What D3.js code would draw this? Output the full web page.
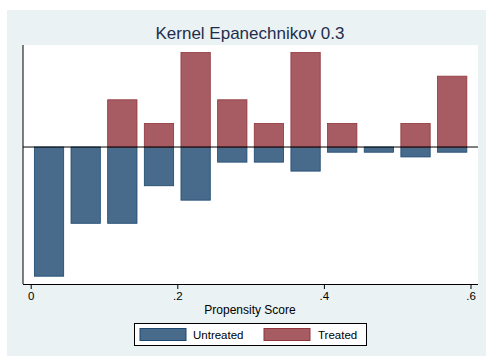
<!DOCTYPE html>
<html><head><meta charset="utf-8">
<script src="https://d3js.org/d3.v7.min.js"></script>
<style>body{margin:0;background:#fff}svg{display:block}text{font-family:"Liberation Sans",Arial,sans-serif}</style>
</head><body><svg id="c" width="486" height="356"></svg>
<script>
const binCenters = [0.025,0.075,0.125,0.175,0.225,0.275,0.325,0.375,0.425,0.475,0.525,0.575];
const treated = [0,0,2,1,4,2,1,4,1,0,1,3];
const untreated = [-5.47,-3.23,-3.23,-1.64,-2.25,-0.64,-0.64,-1.02,-0.22,-0.22,-0.42,-0.22];
const xTicks = [0,0.2,0.4,0.6];
const xTickLabels = ["0",".2",".4",".6"];
const seriesNames = ["Untreated","Treated"];
const titleText = "Kernel Epanechnikov 0.3";
const xTitle = "Propensity Score";

const svg = d3.select("#c");
const navyFill="#486b8c", navyLine="#1a476f", marFill="#a65c62", marLine="#90353b";
svg.append("rect").attr("x",7).attr("y",10).attr("width",479).attr("height",346).attr("fill","#eaf2f3");
const L=23,R=478,T=45,B=284;
svg.append("rect").attr("x",L).attr("y",T).attr("width",R-L).attr("height",B-T).attr("fill","#fff");
const x=d3.scaleLinear().domain([0,0.6]).range([30.7,470.5]);
const y=d3.scaleLinear().domain([-5.8,4.32]).range([B,T]);
const bw=0.04;
const g=svg.append("g");
g.selectAll(".u").data(binCenters).join("rect")
 .attr("x",d=>x(d-bw/2)).attr("width",d=>x(d+bw/2)-x(d-bw/2))
 .attr("y",y(0)).attr("height",(d,i)=>y(untreated[i])-y(0))
 .attr("fill",navyFill).attr("stroke",navyLine).attr("stroke-width",0.8);
const tData = binCenters.map((c,i)=>({c,v:treated[i]})).filter(d=>d.v>0);
g.selectAll(".t").data(tData).join("rect")
 .attr("x",d=>x(d.c-bw/2)).attr("width",d=>x(d.c+bw/2)-x(d.c-bw/2))
 .attr("y",d=>y(d.v)).attr("height",d=>y(0)-y(d.v))
 .attr("fill",marFill).attr("stroke",marLine).attr("stroke-width",0.8);
svg.append("line").attr("x1",L).attr("x2",R).attr("y1",y(0)).attr("y2",y(0)).attr("stroke","#000").attr("stroke-width",1);
svg.append("line").attr("x1",L).attr("x2",L).attr("y1",T).attr("y2",B).attr("stroke","#000").attr("stroke-width",1);
const ax=svg.append("g").attr("transform",`translate(0,${B})`)
 .call(d3.axisBottom(x).tickValues(xTicks).tickFormat((d,i)=>xTickLabels[i]).tickSize(5).tickPadding(3));
ax.select(".domain").attr("d",`M${L},0.5H${R}`).attr("stroke","#000");
ax.selectAll("text").attr("font-size",11.5).attr("fill","#000").attr("font-family","Liberation Sans, Arial, sans-serif");
svg.append("text").attr("x",250).attr("y",314).attr("text-anchor","middle").attr("font-size",12).attr("fill","#000").text(xTitle);
svg.append("text").attr("x",250).attr("y",39).attr("text-anchor","middle").attr("font-size",17).attr("fill","#1e2d4e").text(titleText);
const lg=svg.append("g");
lg.append("rect").attr("x",134.5).attr("y",323.5).attr("width",232).attr("height",22).attr("fill","#fff").attr("stroke","#000");
const sw=[{x:140,f:navyFill,s:navyLine,t:seriesNames[0],tx:193},{x:264,f:marFill,s:marLine,t:seriesNames[1],tx:318}];
sw.forEach(d=>{
 lg.append("rect").attr("x",d.x).attr("y",328.5).attr("width",46).attr("height",12).attr("fill",d.f).attr("stroke",d.s);
 lg.append("text").attr("x",d.tx).attr("y",339).attr("font-size",11.5).attr("fill","#000").text(d.t);
});
</script></body></html>
